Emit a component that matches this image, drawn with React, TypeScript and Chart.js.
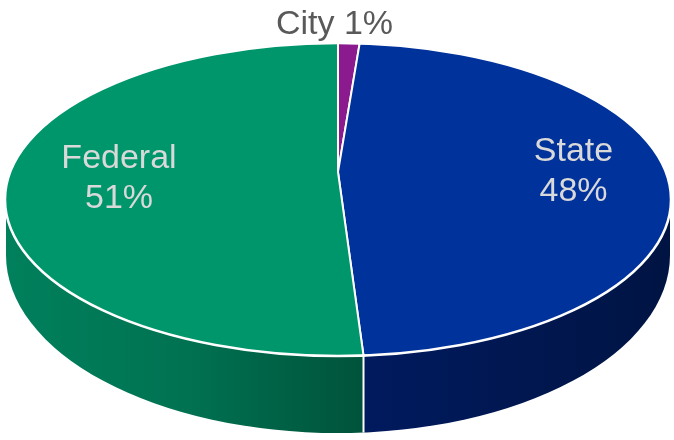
import React, { useEffect, useRef } from "react";
import { Chart, registerables } from "chart.js";

Chart.register(...registerables);

const categories = ["City", "State", "Federal"];
const shares = [1.15, 47.9, 50.95];
const sliceColors = ["#8A1A8E", "#00329B", "#00966C"];
const labelColors = ["#595959", "#D9D9D9", "#D9D9D9"];

const top = { cx: 338, cy: 199.5, rx: 333, ry: 156.5 };
const base = { cx: 338, cy: 255, rx: 332, ry: 178 };
const apex = { x: 338, y: 172 };
const squash = 0.43;

const tilt3d = {
  id: "tilt3d",
  beforeDatasetsDraw(chart: any) {
    const ctx = chart.ctx;
    const arcs = chart.getDatasetMeta(0).data;
    const a = arcs[1].endAngle;
    const dx = Math.cos(a);
    const dy = squash * Math.sin(a);
    const ox = apex.x - top.cx;
    const oy = apex.y - top.cy;
    const A = (dx * dx) / (top.rx * top.rx) + (dy * dy) / (top.ry * top.ry);
    const B = 2 * ((ox * dx) / (top.rx * top.rx) + (oy * dy) / (top.ry * top.ry));
    const C = (ox * ox) / (top.rx * top.rx) + (oy * oy) / (top.ry * top.ry) - 1;
    const t = (-B + Math.sqrt(B * B - 4 * A * C)) / (2 * A);
    const splitX = apex.x + t * dx;
    const splitY = apex.y + t * dy;

    const wall = () => {
      ctx.beginPath();
      ctx.moveTo(base.cx - base.rx, top.cy);
      ctx.lineTo(base.cx - base.rx, base.cy);
      ctx.ellipse(base.cx, base.cy, base.rx, base.ry, 0, Math.PI, 0, true);
      ctx.lineTo(base.cx + base.rx, top.cy);
      ctx.closePath();
    };

    const green = ctx.createLinearGradient(5, 0, splitX, 0);
    green.addColorStop(0, "#00805C");
    green.addColorStop(0.5, "#007252");
    green.addColorStop(1, "#00533A");
    const blue = ctx.createLinearGradient(splitX, 0, 671, 0);
    blue.addColorStop(0, "#001A5E");
    blue.addColorStop(1, "#001443");

    ctx.save();
    ctx.beginPath();
    ctx.rect(0, 0, splitX, 440);
    ctx.clip();
    wall();
    ctx.fillStyle = green;
    ctx.fill();
    ctx.restore();

    ctx.save();
    ctx.beginPath();
    ctx.rect(splitX, 0, 674 - splitX, 440);
    ctx.clip();
    wall();
    ctx.fillStyle = blue;
    ctx.fill();
    ctx.restore();

    ctx.save();
    ctx.strokeStyle = "#FFFFFF";
    ctx.lineWidth = 2;
    ctx.beginPath();
    ctx.moveTo(splitX, splitY);
    ctx.lineTo(splitX, base.cy + base.ry * Math.sqrt(1 - ((splitX - base.cx) / base.rx) ** 2));
    ctx.stroke();
    ctx.restore();

    ctx.save();
    ctx.beginPath();
    ctx.ellipse(top.cx, top.cy, top.rx, top.ry, 0, 0, Math.PI * 2);
    ctx.clip();
    ctx.translate(apex.x, apex.y);
    ctx.scale(1, squash);
    ctx.translate(-arcs[0].x, -arcs[0].y);
  },
  afterDatasetsDraw(chart: any) {
    const ctx = chart.ctx;
    ctx.restore();
    ctx.save();
    ctx.strokeStyle = "#FFFFFF";
    ctx.lineWidth = 2.5;
    ctx.beginPath();
    ctx.ellipse(top.cx, top.cy, top.rx, top.ry, 0, 0, Math.PI * 2);
    ctx.stroke();

    const pct = (v: number) => `${Math.round(v)}%`;
    ctx.font = '34px "Liberation Sans", Arial, sans-serif';
    ctx.textAlign = "center";
    ctx.textBaseline = "middle";
    ctx.fillStyle = labelColors[0];
    ctx.fillText(`${categories[0]} ${pct(shares[0])}`, 334.5, 25);
    ctx.fillStyle = labelColors[1];
    ctx.fillText(categories[1], 573.5, 152);
    ctx.fillText(pct(shares[1]), 573.5, 192);
    ctx.fillStyle = labelColors[2];
    ctx.fillText(categories[2], 119, 159);
    ctx.fillText(pct(shares[2]), 119, 199);
    ctx.restore();
  },
};

export default function App() {
  const ref = useRef<HTMLCanvasElement>(null);
  useEffect(() => {
    const chart = new Chart(ref.current as HTMLCanvasElement, {
      type: "pie",
      data: {
        labels: categories,
        datasets: [
          {
            data: shares,
            backgroundColor: sliceColors,
            borderColor: "#FFFFFF",
            borderWidth: 2,
            clip: false,
          } as any,
        ],
      },
      options: {
        responsive: false,
        animation: false,
        radius: 480,
        plugins: { legend: { display: false }, tooltip: { enabled: false } },
      } as any,
      plugins: [tilt3d],
    });
    return () => chart.destroy();
  }, []);
  return (
    <div style={{ position: "absolute", left: 0, top: 0, width: 674, height: 440, background: "#FFFFFF" }}>
      <canvas ref={ref} width={674} height={440} style={{ display: "block" }} />
    </div>
  );
}
